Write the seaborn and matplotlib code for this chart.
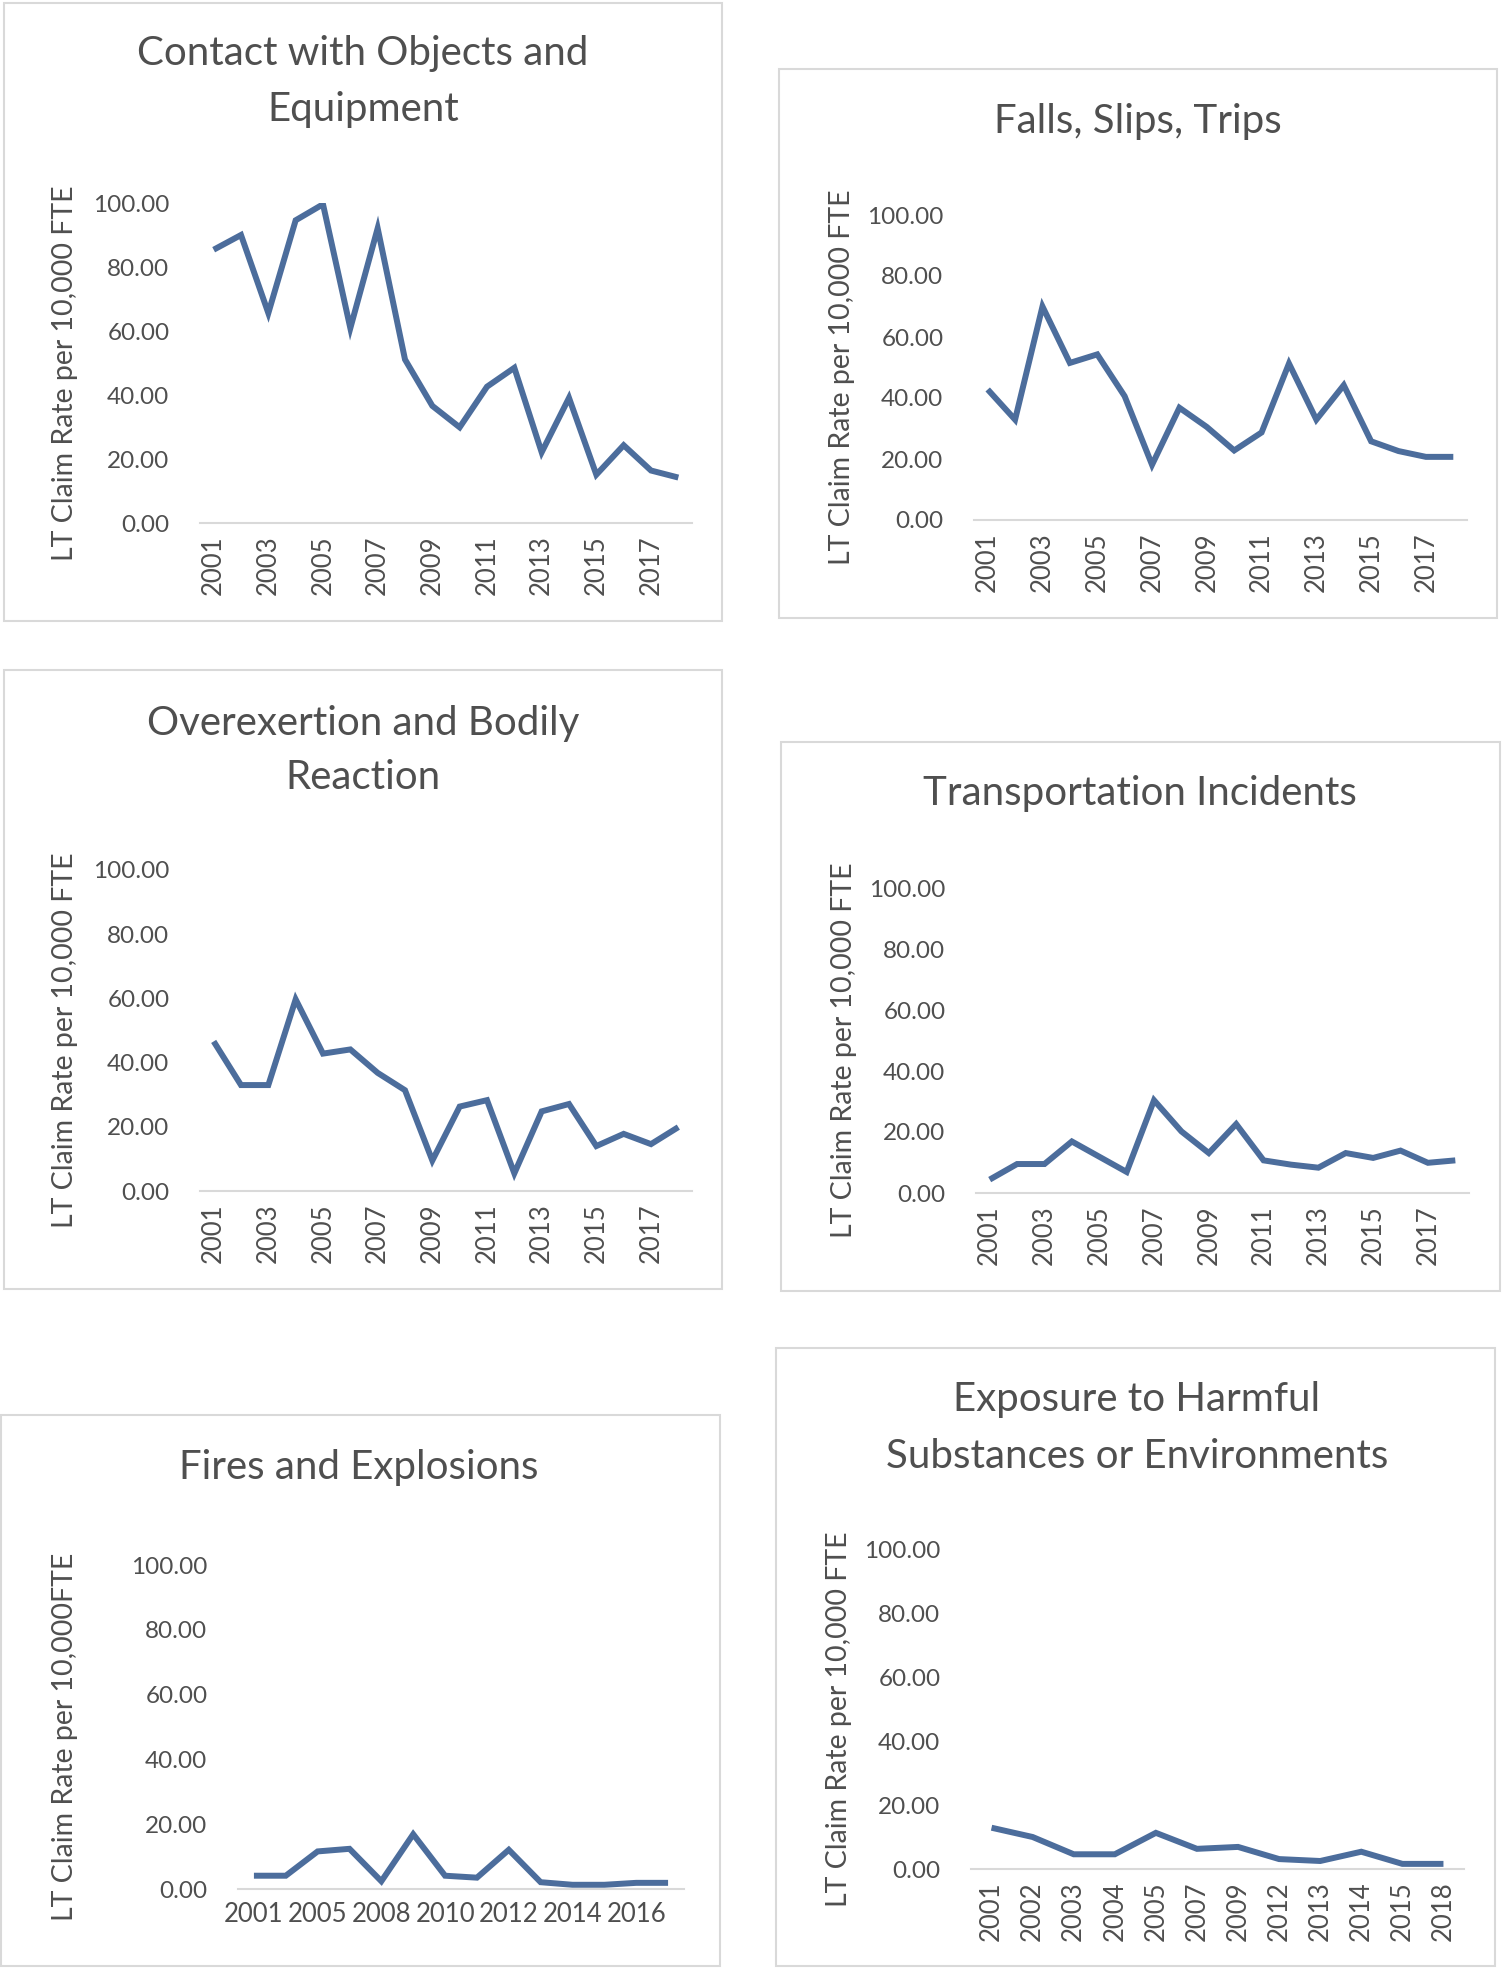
import matplotlib
matplotlib.use("Agg")
import matplotlib.pyplot as plt
import seaborn as sns
import pandas as pd
from matplotlib.patches import Rectangle

sns.set_theme(style="white")
plt.rcParams['font.family'] = ['Lato', 'DejaVu Sans']

# ---------------- data ----------------
years_full = [str(y) for y in range(2001, 2019)]

contact_vals = [85.4, 90.0, 65.6, 94.6, 99.6, 60.9, 92.1, 51.1, 36.6, 29.9,
                42.6, 48.5, 22.1, 39.1, 15.1, 24.3, 16.4, 14.2]
falls_vals = [42.8, 32.9, 70.0, 51.5, 54.3, 40.6, 18.1, 36.8, 30.5, 22.8,
              28.7, 51.3, 32.9, 44.2, 25.8, 22.6, 20.7, 20.7]
overexertion_vals = [46.6, 33.0, 33.0, 59.7, 42.8, 44.1, 36.8, 31.4, 9.5, 26.3,
                     28.3, 5.5, 24.8, 27.1, 14.0, 17.8, 14.6, 19.9]
transport_vals = [4.4, 9.5, 9.5, 16.9, 11.9, 6.9, 30.4, 20.2, 13.1, 22.6,
                  10.7, 9.3, 8.3, 13.1, 11.5, 13.9, 9.9, 10.7]

fires_years = ['2001', '2004', '2005', '2007', '2008', '2009', '2010', '2011',
               '2012', '2013', '2014', '2015', '2016', '2017']
fires_vals = [4.1, 4.1, 11.6, 12.4, 2.4, 16.9, 4.1, 3.5, 12.1, 2.1, 1.3, 1.3, 1.9, 1.9]

exposure_years = ['2001', '2002', '2003', '2004', '2005', '2007', '2009', '2012',
                  '2013', '2014', '2015', '2018']
exposure_vals = [12.9, 10.0, 4.6, 4.6, 11.3, 6.3, 6.9, 3.1, 2.5, 5.4, 1.6, 1.6]

y_ticks = [0, 20, 40, 60, 80, 100]

# ---------------- layout ----------------
W, H = 1502, 1970
fig = plt.figure(figsize=(W / 100, H / 100), dpi=100)
fig.patch.set_facecolor('white')

TEXT = '#4F4F4F'
LINE = '#4C6D9C'
GRID = '#D9D9D9'


def fx(px):
    return px / W


def fy(py):
    return 1 - py / H


panels = [
    dict(title=["Contact with Objects and", "Equipment"], title_y=[54, 109], title_x=363,
         box=(4, 3, 722, 621), ax=(200, 692, 203, 523), ylab_x=65,
         cats=years_full, vals=contact_vals, every=2, rot=90,
         ylabel="LT Claim Rate per 10,000 FTE"),
    dict(title=["Falls, Slips, Trips"], title_y=[122], title_x=1138,
         box=(779, 69, 1497, 618), ax=(974, 1467, 215, 520), ylab_x=842,
         cats=years_full, vals=falls_vals, every=2, rot=90,
         ylabel="LT Claim Rate per 10,000 FTE"),
    dict(title=["Overexertion and Bodily", "Reaction"], title_y=[723, 777], title_x=363,
         box=(4, 670, 722, 1289), ax=(200, 692, 870, 1191), ylab_x=65,
         cats=years_full, vals=overexertion_vals, every=2, rot=90,
         ylabel="LT Claim Rate per 10,000 FTE"),
    dict(title=["Transportation Incidents"], title_y=[794], title_x=1140,
         box=(781, 742, 1500, 1291), ax=(976, 1469, 888, 1193), ylab_x=844,
         cats=years_full, vals=transport_vals, every=2, rot=90,
         ylabel="LT Claim Rate per 10,000 FTE"),
    dict(title=["Fires and Explosions"], title_y=[1467], title_x=359,
         box=(1, 1415, 720, 1966), ax=(238, 684, 1565, 1889), ylab_x=65,
         cats=fires_years, vals=fires_vals, every=2, rot=0,
         ylabel="LT Claim Rate per 10,000FTE"),
    dict(title=["Exposure to Harmful", "Substances or Environments"], title_y=[1400, 1456],
         title_x=1137,
         box=(776, 1348, 1495, 1966), ax=(971, 1464, 1549, 1869), ylab_x=839,
         cats=exposure_years, vals=exposure_vals, every=1, rot=90,
         ylabel="LT Claim Rate per 10,000 FTE"),
]

for p in panels:
    # chart border box
    x0, y0, x1, y1 = p['box']
    fig.patches.append(Rectangle((fx(x0), fy(y1)), fx(x1) - fx(x0), fy(y0) - fy(y1),
                                 transform=fig.transFigure, fill=False,
                                 edgecolor=GRID, linewidth=1.5, zorder=0))
    # titles
    for t, ty in zip(p['title'], p['title_y']):
        fig.text(fx(p['title_x']), fy(ty), t, ha='center', va='center',
                 fontsize=29, color=TEXT)

    ax0, ax1, ay0, ay1 = p['ax']
    ax = fig.add_axes([fx(ax0), fy(ay1), fx(ax1) - fx(ax0), fy(ay0) - fy(ay1)])
    df = pd.DataFrame({'pos': list(range(len(p['cats']))), 'val': p['vals']})
    sns.lineplot(data=df, x='pos', y='val', ax=ax, color=LINE, linewidth=4.3,
                 solid_joinstyle='miter', solid_capstyle='butt')
    n = len(p['cats'])
    ax.set_xlim(-0.5, n - 0.5)
    ax.set_ylim(0, 100)
    ax.set_yticks(y_ticks)
    ax.set_yticklabels([f"{v:.2f}" for v in y_ticks], fontsize=17.5, color=TEXT)
    idx = list(range(0, n, p['every']))
    ax.set_xticks(idx)
    ax.set_xticklabels([p['cats'][i] for i in idx], rotation=p['rot'], fontsize=18.5,
                       color=TEXT)
    ax.tick_params(axis='both', length=0)
    ax.tick_params(axis='y', pad=22)
    ax.tick_params(axis='x', pad=9)
    for s in ['top', 'right', 'left']:
        ax.spines[s].set_visible(False)
    ax.spines['bottom'].set_color(GRID)
    ax.spines['bottom'].set_linewidth(1.5)
    ax.set_xlabel('')
    ax.set_ylabel('')
    ax.patch.set_alpha(0)
    # y axis title
    ycen = (ay0 + ay1) / 2 + 10
    fig.text(fx(p['ylab_x']), fy(ycen), p['ylabel'], rotation=90, ha='center',
             va='center', fontsize=20.5, color=TEXT)

fig.savefig('out.png', dpi=100, facecolor='white')
